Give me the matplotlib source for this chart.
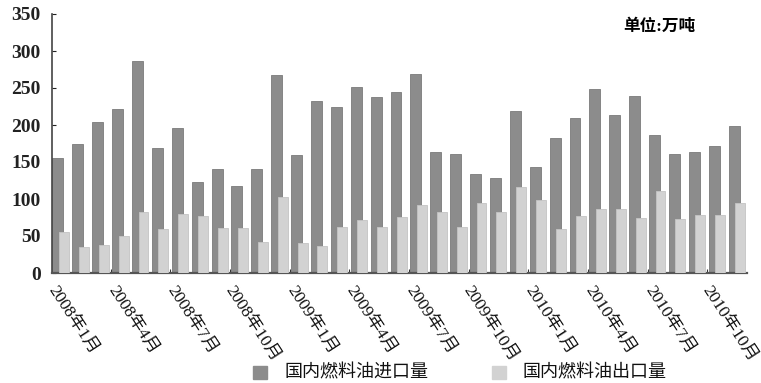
#!/usr/bin/env python3
"""Monthly fuel oil imports / exports, Jan 2008 - Nov 2010 (unit: 10k tonnes)."""

import matplotlib

matplotlib.use("Agg")
import matplotlib.pyplot as plt
import numpy as np

IMPORTS = [155, 174, 204, 221, 287, 169, 196, 123, 141, 117, 141, 267,
           159, 232, 225, 252, 238, 245, 269, 163, 161, 134, 129, 219,
           143, 183, 210, 249, 213, 239, 187, 161, 163, 172, 198]
EXPORTS = [55, 35, 38, 50, 83, 59, 80, 77, 61, 61, 42, 103,
           40, 37, 62, 71, 62, 76, 92, 83, 62, 95, 83, 116,
           99, 59, 77, 87, 87, 75, 111, 73, 78, 79, 95]
TICK_LABELS = ["2008年1月", "2008年4月", "2008年7月", "2008年10月",
               "2009年1月", "2009年4月", "2009年7月", "2009年10月",
               "2010年1月", "2010年4月", "2010年7月", "2010年10月"]
IMPORT_NAME = "国内燃料油进口量"
EXPORT_NAME = "国内燃料油出口量"
UNIT_TEXT = "单位:万吨"

FONT = ["Liberation Serif", "Noto Sans CJK SC"]
DARK = "#8c8c8c"
LIGHT = "#d2d2d2"


def main() -> None:
    fig = plt.figure(figsize=(7.61, 3.83), dpi=100)
    ax = fig.add_axes([52 / 761, 1 - 273 / 383, (747 - 52) / 761, (273 - 14) / 383])

    x = np.arange(len(IMPORTS))
    ax.bar(x - 0.15, IMPORTS, width=0.55, color=DARK, edgecolor="#7a7a7a", linewidth=0.6, zorder=2)
    ax.bar(x + 0.15, EXPORTS, width=0.5, color=LIGHT, edgecolor="#c4c4c4", linewidth=0.6, zorder=3)

    ax.set_xlim(-0.45, 34.5)
    ax.set_ylim(0, 350)
    ax.set_yticks(range(0, 351, 50))
    ax.set_yticklabels([str(v) for v in range(0, 351, 50)], family=FONT, fontsize=14, fontweight="bold")
    ax.tick_params(axis="y", length=3, direction="in", pad=8, colors="#222222")

    ax.set_xticks(np.arange(2.5, 33, 3))
    ax.set_xticklabels([])
    ax.tick_params(axis="x", length=3, direction="in", colors="#333333")

    for k, label in enumerate(TICK_LABELS):
        ax.text(3 * k + 0.6, -14, label, rotation=-57, ha="center", va="top",
                family=FONT, fontsize=12.5, color="#111111")

    for side in ("top", "right"):
        ax.spines[side].set_visible(False)
    ax.spines["left"].set_color("#444444")
    ax.spines["left"].set_linewidth(1.2)
    ax.spines["bottom"].set_color("#555555")
    ax.spines["bottom"].set_linewidth(1.6)

    fig.text(623 / 761, 1 - 27 / 383, UNIT_TEXT, family=FONT, fontsize=12,
             fontweight="bold", va="center", ha="left")

    # legend drawn by hand at the bottom
    for px, name, color in ((260, IMPORT_NAME, DARK), (499, EXPORT_NAME, LIGHT)):
        fig.patches.append(plt.Rectangle(((px - 7) / 761, 1 - 379 / 383), 14 / 761, 13 / 383,
                                         transform=fig.transFigure, color=color))
        fig.text((px + 24) / 761, 1 - 373 / 383, name, family=FONT, fontsize=13,
                 va="center", ha="left", color="#111111")

    fig.savefig("out.png", dpi=100)
    plt.close(fig)


if __name__ == "__main__":
    main()
